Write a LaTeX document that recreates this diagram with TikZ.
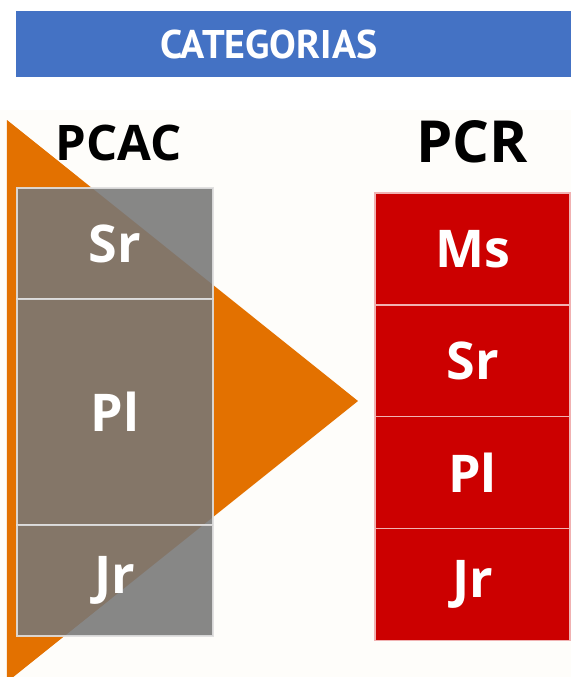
\documentclass[tikz,border=0pt]{standalone}
\usepackage{fontspec}
\setmainfont{Open Sans}
\newfontfamily\titlefont{PT Sans}
\usepackage{xcolor}
\usetikzlibrary{positioning}
\definecolor{bannerblue}{HTML}{4472C4}
\definecolor{pcacorange}{HTML}{E37100}
\definecolor{pcrred}{HTML}{CC0000}
\definecolor{cellgray}{HTML}{777777}
\definecolor{paper}{HTML}{FEFDFA}

\begin{document}
\begin{tikzpicture}[
                x=0.5pt, y=-0.5pt,
                cell/.style={rectangle, inner sep=0pt, outer sep=0pt, text=white,
                    font=\bfseries\fontsize{26}{30}\selectfont},
                grayCell/.style={cell, draw=white!75!gray, line width=0.7pt, fill=cellgray,
                    fill opacity=0.88, draw opacity=0.9, text opacity=1, minimum width=98pt},
                redCell/.style={cell, draw=white!70!pcrred, line width=0.7pt, fill=pcrred,
                    minimum width=97.5pt, minimum height=55.9pt},
                heading/.style={font=\bfseries\fontsize{24.5}{28}\selectfont}
            ]
                \useasboundingbox (0,0) rectangle (571,677);
                \fill[white] (0,0) rectangle (571,677);
                \fill[paper] (0,110) rectangle (571,677);

                % Banner
                \fill[bannerblue] (16,11) rectangle (571,77);
                \node[text=white, font=\titlefont\bfseries\fontsize{20}{24}\selectfont] (title) at (269,44) {CATEGORIAS};

                % Arrow triangle
                \fill[pcacorange] (7,120) -- (358,401) -- (7,682) -- cycle;

                % PCAC column
                \node[heading] (pcac) at (119,143) {PCAC};
                \node[grayCell, anchor=north, minimum height=55.5pt] (pcacSr) at (115,188) {Sr};
                \node[grayCell, below=0pt of pcacSr, minimum height=113pt] (pcacPl) {Pl};
                \node[grayCell, below=0pt of pcacPl, minimum height=55.5pt] (pcacJr) {Jr};

                % PCR column
                \node[heading, font=\bfseries\fontsize{29}{33}\selectfont] (pcr) at (472,142) {PCR};
                \node[redCell, anchor=north] (pcrMs) at (472.5,193) {Ms};
                \node[redCell, below=0pt of pcrMs] (pcrSr) {Sr};
                \node[redCell, below=0pt of pcrSr] (pcrPl) {Pl};
                \node[redCell, below=0pt of pcrPl] (pcrJr) {Jr};
            \end{tikzpicture}
\end{document}
